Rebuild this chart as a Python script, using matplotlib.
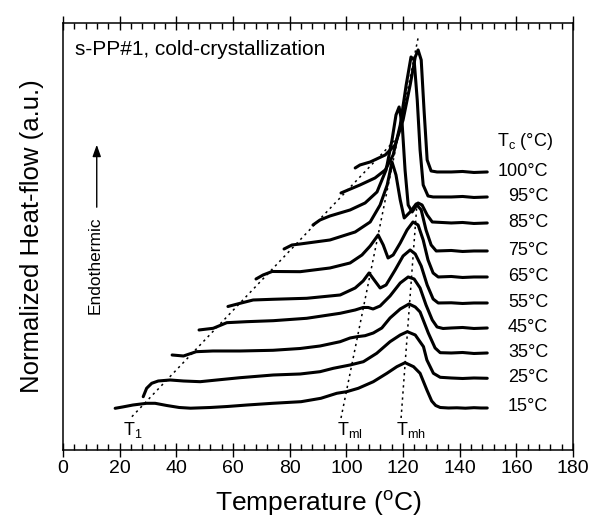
import matplotlib
matplotlib.use('Agg')
import matplotlib.pyplot as plt
from matplotlib.ticker import MultipleLocator

plt.rcParams['font.family'] = ['Liberation Sans', 'DejaVu Sans']
plt.rcParams['mathtext.fontset'] = 'custom'
plt.rcParams['mathtext.rm'] = 'Liberation Sans'
plt.rcParams['mathtext.it'] = 'Liberation Sans'

# crystallization temperatures (label order, bottom to top)
tc_labels = ['15°C', '25°C', '35°C', '45°C', '55°C', '65°C', '75°C', '85°C', '95°C', '100°C']
tc_levels = [4.3, 7.2, 9.7, 12.2, 14.7, 17.3, 19.9, 22.7, 25.3, 27.8]

# DSC traces: temperature (°C) and heat flow (a.u., offset)
t15 = [18.4, 21, 24.7, 29.5, 32.5, 36.6, 41, 45, 52, 58, 65, 74, 84, 91, 96.6, 100.1, 104.2, 109.5,
       114.3, 117.8, 120.7, 123.7, 126.0, 128.4, 130.1, 131.5, 133.1, 136, 139, 142, 145, 147.5, 149.7]
h15 = [4.17, 4.3, 4.5, 4.67, 4.67, 4.45, 4.25, 4.18, 4.25, 4.35, 4.5, 4.67, 4.83, 5.17, 5.67, 5.83, 6.17, 6.83,
       7.67, 8.33, 8.73, 8.33, 7.67, 6.0, 4.9, 4.45, 4.25, 4.2, 4.22, 4.18, 4.23, 4.2, 4.2]

t25 = [28.3, 29.5, 31.3, 33.6, 37.8, 42.5, 48.4, 54.3, 62.5, 74.2, 83.7, 90.7, 95.4, 101.3, 106.0, 110.7,
       115.4, 119.0, 121.5, 124.3, 127.2, 128.4, 130.7, 133.1, 137, 141, 145, 149.7]
h25 = [5.33, 6.17, 6.67, 6.9, 7.0, 6.9, 6.83, 7.0, 7.23, 7.5, 7.6, 7.83, 8.17, 8.5, 8.83, 9.67,
       10.83, 11.5, 11.83, 11.5, 10.33, 9.0, 7.67, 7.27, 7.2, 7.15, 7.2, 7.17]

t35 = [38.5, 42.5, 47.0, 52.9, 62.5, 74.1, 83.7, 90.7, 97.8, 101.3, 103.8, 106.6, 109.5, 112.5, 115.4,
       119.0, 122.1, 124.3, 126.0, 128.9, 131.3, 133.1, 137, 141, 145, 149.7]
h35 = [9.5, 9.4, 9.83, 9.9, 9.9, 9.97, 10.15, 10.4, 10.83, 11.2, 11.33, 11.43, 11.7, 12.2, 13.2,
       14.1, 14.6, 14.3, 13.8, 11.7, 10.2, 9.73, 9.7, 9.75, 9.65, 9.7]

t45 = [48.0, 53.0, 57.8, 64.8, 74.2, 86.0, 97.8, 103.1, 105.9, 107.7, 109.4, 111.9, 115.4, 119.0, 121.8,
       123.9, 126.0, 128.1, 130.3, 132.0, 134.1, 137, 141, 145, 149.7]
h45 = [12.0, 12.17, 12.73, 12.83, 12.93, 13.17, 13.67, 14.0, 14.25, 14.25, 14.1, 14.4, 15.4, 16.7, 17.3,
       17.1, 16.2, 14.5, 13.0, 12.3, 12.15, 12.2, 12.25, 12.15, 12.2]

t55 = [58.2, 62.5, 67.1, 74.1, 86.0, 97.8, 103.1, 105.9, 108.0, 109.8, 111.9, 114.0, 117.2, 120.0, 122.5,
       124.3, 126.4, 128.5, 130.6, 132.4, 137, 141, 145, 149.7]
h55 = [14.35, 14.67, 15.0, 15.07, 15.17, 15.5, 16.2, 16.9, 17.7, 17.0, 16.2, 16.5, 18.0, 19.4, 20.0,
       19.6, 18.4, 16.5, 15.1, 14.7, 14.72, 14.65, 14.7, 14.7]

t65 = [68.1, 70.6, 73.8, 83.7, 94.2, 101.3, 105.5, 108.4, 111.2, 113.0, 114.7, 116.5, 119.0, 121.4, 123.5,
       125.3, 127.1, 128.8, 130.6, 132.4, 137, 141, 145, 149.7]
h65 = [17.1, 17.5, 17.85, 17.83, 18.2, 18.7, 19.5, 20.4, 21.5, 20.5, 19.2, 19.5, 20.7, 22.0, 22.8,
       22.5, 21.0, 19.0, 17.7, 17.3, 17.35, 17.25, 17.3, 17.3]

t75 = [78.0, 80.8, 83.7, 94.2, 103.1, 108.4, 111.9, 114.4, 116.1, 117.5, 119.0, 120.4, 122.5, 124.6, 126.4,
       128.1, 129.9, 131.7, 137, 141, 145, 149.7]
h75 = [20.1, 20.5, 20.6, 21.0, 21.8, 22.8, 24.5, 26.5, 28.8, 27.5, 25.0, 23.2, 23.8, 24.6, 24.0,
       22.0, 20.5, 19.9, 19.95, 19.85, 19.9, 19.9]

t85 = [88.2, 90.7, 94.2, 101.3, 106.6, 110.8, 114.0, 116.1, 117.5, 118.6, 119.7, 120.7, 121.8, 123.2, 125.3,
       126.7, 128.5, 130.3, 137, 141, 145, 149.7]
h85 = [22.5, 23.0, 23.4, 24.0, 24.7, 25.8, 28.0, 31.0, 33.5, 34.3, 32.5, 28.0, 24.5, 23.8, 24.7,
       24.5, 23.5, 22.8, 22.7, 22.75, 22.65, 22.7]

t95 = [98.1, 100.6, 104.8, 110.1, 113.7, 116.5, 119.0, 121.1, 122.8, 123.9, 125.0, 126.0, 127.1, 128.8,
       130.6, 137, 141, 145, 149.7]
h95 = [25.7, 26.0, 26.5, 27.2, 28.0, 29.5, 32.5, 36.5, 39.3, 39.0, 35.0, 30.0, 26.5, 25.4,
       25.3, 25.3, 25.35, 25.25, 25.3]

t100 = [103.1, 104.8, 108.4, 113.7, 117.2, 120.0, 122.5, 124.3, 125.3, 126.4, 127.4, 128.5, 129.9, 132.0,
        137, 141, 145, 149.7]
h100 = [28.2, 28.5, 28.8, 29.5, 30.5, 33.0, 36.5, 39.3, 40.0, 39.0, 34.0, 29.0, 27.9, 27.8,
        27.8, 27.85, 27.75, 27.8]

# guide lines for T1, Tml and Tmh
t1_line_t = [24.3, 117.2]
t1_line_h = [3.33, 31.0]
tml_line_t = [98.1, 125.3]
tml_line_h = [3.2, 41.2]
tmh_line_t = [119.3, 125.0]
tmh_line_h = [3.2, 25.0]

traces = [(t15, h15), (t25, h25), (t35, h35), (t45, h45), (t55, h55),
          (t65, h65), (t75, h75), (t85, h85), (t95, h95), (t100, h100)]

fig = plt.figure(figsize=(5.89, 5.17), dpi=100)
ax = fig.add_axes([0.107, 0.1296, 0.866, 0.826])

for t, h in traces:
    ax.plot(t, h, color='black', lw=2.2, solid_capstyle='round', solid_joinstyle='round')

for lt, lh in [(t1_line_t, t1_line_h), (tml_line_t, tml_line_h), (tmh_line_t, tmh_line_h)]:
    ax.plot(lt, lh, color='black', lw=1.1, linestyle=(0, (1.5, 2.5)))

for lab, lev in zip(tc_labels, tc_levels):
    ax.text(171.2, lev, lab, ha='right', va='center', fontsize=13)
ax.text(163, 30.8, r'T$_\mathregular{c}$ (°C)', ha='center', va='center', fontsize=13)

ax.text(4.2, 40.0, 's-PP#1, cold-crystallization', ha='left', va='center', fontsize=15)
ax.text(11.3, 18.5, 'Endothermic', rotation=90, ha='center', va='center', fontsize=12.5)
ax.annotate('', xy=(11.9, 30.8), xytext=(11.9, 24.0),
            arrowprops=dict(arrowstyle='-|>,head_width=0.25,head_length=0.7', color='black', lw=1))

ax.text(21.2, 1.5, r'T$_\mathregular{1}$', ha='left', va='baseline', fontsize=13)
ax.text(96.7, 1.5, r'T$_\mathregular{ml}$', ha='left', va='baseline', fontsize=13)
ax.text(117.5, 1.5, r'T$_\mathregular{mh}$', ha='left', va='baseline', fontsize=13)

ax.set_xlim(0, 180)
ax.set_ylim(0, 42.7)
ax.set_xticks(range(0, 181, 20))
ax.xaxis.set_minor_locator(MultipleLocator(4))
ax.tick_params(axis='x', which='major', direction='inout', length=10, width=1, top=True,
               labelsize=14, pad=2)
ax.tick_params(axis='x', which='minor', direction='in', length=4, width=1, top=True)
ax.set_yticks([])
for s in ax.spines.values():
    s.set_linewidth(1.1)

ax.set_xlabel(r'Temperature ($\mathregular{^o}$C)', fontsize=19, labelpad=9)
ax.set_ylabel('Normalized Heat-flow (a.u.)', fontsize=18.5, labelpad=14)

fig.savefig('out.png', dpi=100)
